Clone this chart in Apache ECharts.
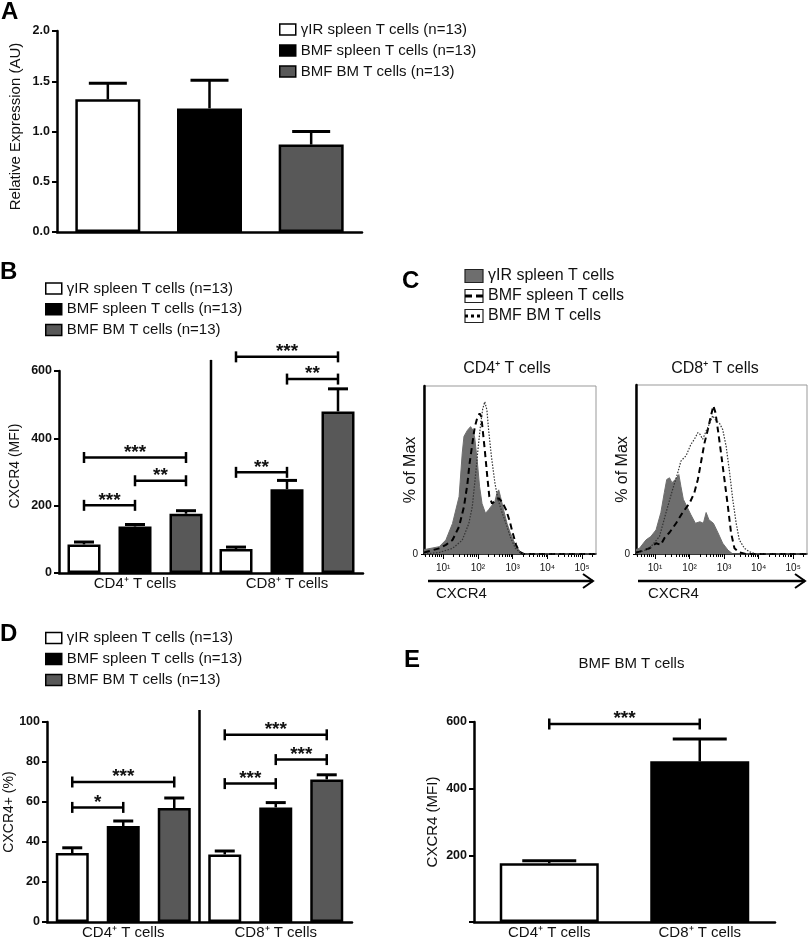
<!DOCTYPE html>
<html>
<head>
<meta charset="utf-8">
<script src="https://cdn.jsdelivr.net/npm/echarts@6/dist/echarts.min.js"></script>
<style>
  html, body { margin: 0; background: #fff; }
  #chart { width: 810px; height: 940px; }
</style>
</head>
<body>
<div id="chart"></div>
<script>
// ---- data ----
const groupNames = ['γIR spleen T cells (n=13)', 'BMF spleen T cells (n=13)', 'BMF BM T cells (n=13)'];
const subsetCats = ['CD4⁺ T cells', 'CD8⁺ T cells'];

// A: relative expression, one bar per group
const aMean = [1.32, 1.23, 0.87];
const aSem = [0.16, 0.28, 0.13];

// B: CXCR4 MFI, rows = group, columns = CD4 / CD8
const bMean = [[85, 71], [138, 249], [176, 480]];
const bSem = [[7, 6], [6, 26], [9, 67]];
// [subset, fromGroup, toGroup, y, stars]
const bSig = [[0, 0, 2, 343, '***'], [0, 1, 2, 274, '**'], [0, 0, 1, 201, '***'],
              [1, 0, 1, 299, '**'], [1, 1, 2, 576, '**'], [1, 0, 2, 642, '***']];

// D: % CXCR4+
const dMean = [[34.5, 33.8], [48, 57.3], [57, 71.3]];
const dSem = [[2.6, 1.7], [2.5, 2.4], [5, 2.3]];
const dSig = [[0, 0, 2, 70, '***'], [0, 0, 1, 57.3, '*'],
              [1, 0, 1, 69.2, '***'], [1, 1, 2, 81.2, '***'], [1, 0, 2, 93.6, '***']];

// E: BMF BM T cells, CD4 vs CD8
const eMean = [176, 482];
const eSem = [8, 67];
const eSig = [[0, 1, 594, '***']];

// C: histograms, [log10 CXCR4, % of max]
const histNames = ['γIR spleen T cells', 'BMF spleen T cells', 'BMF BM T cells'];
const cd4Gray = [[0.45, 3], [0.51, 3.1], [0.89, 4.8], [1.08, 9.2], [1.27, 20], [1.46, 37.6], [1.55, 66],
  [1.60, 77], [1.70, 81], [1.79, 83.4], [1.86, 81], [1.91, 76], [1.98, 61.6], [2.05, 44], [2.12, 33],
  [2.22, 26.6], [2.31, 29], [2.41, 32], [2.49, 34.3], [2.55, 40], [2.60, 42], [2.65, 37.6], [2.74, 29],
  [2.84, 20], [2.93, 14], [3.08, 6], [3.22, 1.5], [3.36, 0], [5.4, 0]];
const cd4Dash = [[0.45, 1], [0.89, 3.7], [1.08, 6], [1.27, 9.2], [1.46, 18], [1.60, 31], [1.70, 46],
  [1.76, 59], [1.84, 72], [1.91, 83], [1.98, 89], [2.05, 92], [2.10, 90], [2.14, 81], [2.20, 68],
  [2.27, 51], [2.33, 37.6], [2.41, 33], [2.51, 35], [2.60, 36.5], [2.70, 34], [2.81, 29], [2.91, 22],
  [3.0, 14], [3.10, 6], [3.19, 1.5], [3.31, 0], [5.4, 0]];
const cd4Dot = [[0.45, 0], [0.89, 1], [1.27, 3.7], [1.55, 9], [1.74, 20], [1.84, 31], [1.93, 51],
  [2.01, 70], [2.08, 85], [2.14, 95], [2.20, 99.7], [2.26, 94.3], [2.31, 81], [2.39, 64], [2.49, 46.6],
  [2.58, 35.6], [2.70, 27], [2.81, 20], [2.93, 11.4], [3.08, 3.7], [3.22, 1], [3.36, 0], [5.4, 0]];
const cd8Gray = [[0.45, 3], [0.55, 3.7], [0.74, 9.2], [0.88, 11.4], [1.03, 15.7], [1.17, 27], [1.27, 40],
  [1.34, 48.5], [1.42, 49.6], [1.49, 46.4], [1.59, 48.5], [1.69, 51.7], [1.75, 44], [1.82, 35.6],
  [1.92, 31], [2.04, 25.5], [2.17, 20], [2.30, 21], [2.40, 20], [2.48, 27], [2.56, 22.3], [2.69, 20],
  [2.82, 14], [2.96, 7], [3.11, 2.6], [3.25, 0], [5.4, 0]];
const cd8Dash = [[0.45, 1], [0.55, 1.5], [0.84, 3.7], [1.03, 7], [1.17, 6], [1.27, 10.3], [1.42, 14],
  [1.61, 20], [1.80, 27], [2.00, 33], [2.14, 40], [2.24, 48.5], [2.33, 59.5], [2.43, 72], [2.53, 81],
  [2.62, 90], [2.69, 96.5], [2.75, 92], [2.82, 81], [2.91, 66], [3.01, 48.5], [3.11, 31], [3.20, 14],
  [3.30, 3.7], [3.44, 1], [3.64, 0], [5.4, 0]];
const cd8Dot = [[0.45, 0], [0.55, 1], [0.84, 3.7], [1.13, 11.4], [1.32, 27], [1.51, 42], [1.66, 53],
  [1.75, 60.5], [1.90, 64], [2.04, 71.4], [2.14, 74.7], [2.24, 79], [2.30, 78], [2.38, 74.7], [2.48, 80],
  [2.58, 85], [2.67, 90], [2.77, 86.7], [2.87, 85], [2.96, 81], [3.06, 70], [3.16, 53], [3.25, 35.6],
  [3.35, 20], [3.44, 9.2], [3.59, 3.7], [3.73, 1.5], [3.93, 0], [5.4, 0]];
const decadeTicks = [1, 2, 3, 4, 5];

// ---- styling ----
const FONT = '"Liberation Sans", Arial, Helvetica, sans-serif';
const INK = '#111';
const BAR_FILL = ['#ffffff', '#000000', '#585858'];
const HIST_GRAY = '#6e6e6e';
const PITCH = 51, BW3 = 33, STROKE = 2.5;
const SUP = { 1: '¹', 2: '²', 3: '³', 4: '⁴', 5: '⁵' };

const minorTicks = [];
for (let n = 0; n <= 5; n++) {
  for (let k = 2; k <= 9; k++) {
    const v = n + Math.log10(k);
    if (v > 0.45 && v < 5.4) minorTicks.push(v);
  }
}

const chart = echarts.init(document.getElementById('chart'), null, { renderer: 'canvas' });

function barYAxis(grid, max, interval, name, nameGap, nameSize, lift, fmt) {
  return {
    gridIndex: grid, type: 'value', min: 0, max, interval,
    name, nameLocation: 'middle', nameGap, nameMoveOverlap: false,
    nameTextStyle: { fontSize: nameSize, color: INK, fontFamily: FONT, padding: [0, 0, 0, lift * 2] },
    axisLine: { show: true, lineStyle: { color: '#000', width: 2.5 } },
    axisTick: { show: true, length: 5, lineStyle: { color: '#000', width: 2 } },
    axisLabel: { fontSize: 12.5, fontWeight: 'bold', color: INK, fontFamily: FONT, margin: 7, formatter: fmt },
    splitLine: { show: false }
  };
}

function catAxis(grid, data, showLabel) {
  return {
    gridIndex: grid, type: 'category', data,
    axisLine: { show: true, lineStyle: { color: '#000', width: 2.5 } },
    axisTick: { show: false },
    axisLabel: { show: showLabel, fontSize: 15, color: INK, fontFamily: FONT, margin: 3, interval: 0 },
    splitLine: { show: false }
  };
}

function logAxes(grid) {
  return [{
    gridIndex: grid, type: 'value', min: 0.45, max: 5.4, position: 'bottom',
    axisLine: { show: true, onZero: false, lineStyle: { color: '#000', width: 1.5 } },
    axisTick: { show: true, customValues: decadeTicks, length: 5, lineStyle: { color: '#000', width: 1 } },
    axisLabel: { customValues: decadeTicks, formatter: v => '10' + SUP[v], fontSize: 10, color: INK, fontFamily: FONT, margin: 9 },
    splitLine: { show: false }
  }, {
    gridIndex: grid, type: 'value', min: 0.45, max: 5.4, position: 'bottom',
    axisLine: { show: false },
    axisTick: { show: true, customValues: minorTicks, length: 3, lineStyle: { color: '#000', width: 1 } },
    axisLabel: { show: false },
    splitLine: { show: false }
  }];
}

function histYAxis(grid) {
  return {
    gridIndex: grid, type: 'value', min: 0, max: 110,
    name: '% of Max', nameLocation: 'middle', nameGap: 5, nameMoveOverlap: false,
    nameTextStyle: { fontSize: 16, color: INK, fontFamily: FONT },
    axisLine: { show: true, lineStyle: { color: '#000', width: 2.5 } },
    axisTick: { show: true, customValues: [0], length: 3, lineStyle: { color: '#000', width: 1 } },
    axisLabel: { customValues: [0], fontSize: 10, color: INK, fontFamily: FONT, margin: 6 },
    splitLine: { show: false }
  };
}

function groupedBars(ax, means) {
  return means.map((row, k) => ({
    name: groupNames[k], type: 'bar', xAxisIndex: ax, yAxisIndex: ax, data: row,
    barWidth: BW3, barGap: ((PITCH - BW3) / BW3 * 100) + '%',
    itemStyle: { color: BAR_FILL[k], borderColor: '#000', borderWidth: STROKE }, z: 2
  }));
}

// items: [category, slot offset, mean, sem]
function errorBars(ax, items, pitch, capHalf) {
  return {
    type: 'custom', xAxisIndex: ax, yAxisIndex: ax, data: items, encode: { x: 0, y: 2 }, z: 3, silent: true,
    renderItem(params, api) {
      const base = api.coord([api.value(0), api.value(2)]);
      const top = api.coord([api.value(0), api.value(2) + api.value(3)]);
      const x = base[0] + api.value(1) * pitch;
      return {
        type: 'group', children: [
          { type: 'line', shape: { x1: x, y1: base[1], x2: x, y2: top[1] }, style: { stroke: '#000', lineWidth: 2.5 } },
          { type: 'line', shape: { x1: x - capHalf, y1: top[1], x2: x + capHalf, y2: top[1] }, style: { stroke: '#000', lineWidth: 3 } }
        ]
      };
    }
  };
}

// items: [catFrom, slotFrom, catTo, slotTo, y]
function brackets(ax, items, labels, pitch) {
  return {
    type: 'custom', xAxisIndex: ax, yAxisIndex: ax, data: items, encode: { x: 0, y: 4 }, z: 4, silent: true,
    renderItem(params, api) {
      const a = api.coord([api.value(0), api.value(4)]);
      const b = api.coord([api.value(2), api.value(4)]);
      const x1 = a[0] + api.value(1) * pitch, x2 = b[0] + api.value(3) * pitch, y = a[1];
      const ls = { stroke: '#000', lineWidth: 2.5 };
      return {
        type: 'group', children: [
          { type: 'line', shape: { x1, y1: y, x2, y2: y }, style: ls },
          { type: 'line', shape: { x1, y1: y - 5.5, x2: x1, y2: y + 5.5 }, style: ls },
          { type: 'line', shape: { x1: x2, y1: y - 5.5, x2, y2: y + 5.5 }, style: ls },
          { type: 'text', x: (x1 + x2) / 2, y: y - 5,
            style: { text: labels[params.dataIndex], fill: INK, font: 'bold 19px ' + FONT, align: 'center', verticalAlign: 'middle' } }
        ]
      };
    }
  };
}

function divider(ax, topValue) {
  return {
    type: 'custom', xAxisIndex: ax, yAxisIndex: ax, data: [[0, topValue]], encode: { x: 0, y: 1 }, z: 3, silent: true,
    renderItem(params, api) {
      const p0 = api.coord([0, 0]), p1 = api.coord([1, api.value(1)]);
      const x = (p0[0] + p1[0]) / 2;
      return { type: 'line', shape: { x1: x, y1: p1[1], x2: x, y2: p0[1] }, style: { stroke: '#000', lineWidth: 2.5 } };
    }
  };
}

function histSeries(xIdx, yIdx, gray, dash, dot) {
  return [
    { name: histNames[0], type: 'line', xAxisIndex: xIdx, yAxisIndex: yIdx, data: gray, symbol: 'none',
      lineStyle: { color: HIST_GRAY, width: 1 }, areaStyle: { color: HIST_GRAY, opacity: 1 }, z: 2 },
    { name: histNames[1], type: 'line', xAxisIndex: xIdx, yAxisIndex: yIdx, data: dash, symbol: 'none',
      lineStyle: { color: '#000', width: 2, type: [6, 4] }, z: 3 },
    { name: histNames[2], type: 'line', xAxisIndex: xIdx, yAxisIndex: yIdx, data: dot, symbol: 'none',
      lineStyle: { color: '#333', width: 1.2, type: [1.5, 1.5] }, z: 3 }
  ];
}

function legendAt(left, top, gap) {
  return {
    data: groupNames, orient: 'vertical', left, top, itemWidth: 16, itemHeight: 11, itemGap: gap,
    padding: 0, selectedMode: false, icon: 'rect',
    textStyle: { fontSize: 15, color: INK, fontFamily: FONT },
    itemStyle: { borderWidth: 1.5, borderColor: '#000' }
  };
}

const txt = (x, y, text, size, extra) => ({
  type: 'text', x, y, silent: true,
  style: Object.assign({ text, fill: INK, font: size + 'px ' + FONT, verticalAlign: 'middle' }, extra || {})
});

function histLegend() {
  const out = [];
  const cy = [276, 296, 316];
  cy.forEach((y, i) => {
    out.push({ type: 'rect', shape: { x: 465, y: y - 6.5, width: 18, height: 13 },
      style: { fill: i === 0 ? HIST_GRAY : '#fff', stroke: '#222', lineWidth: 1.2 } });
    if (i > 0) {
      out.push({ type: 'line', shape: { x1: 465, y1: y, x2: 483, y2: y },
        style: { stroke: '#000', lineWidth: 3, lineDash: i === 1 ? [7, 4] : [3, 3] } });
    }
    out.push(txt(488, y, histNames[i], 16));
  });
  return out;
}

function arrow(x1, x2, y) {
  return [
    { type: 'line', shape: { x1, y1: y, x2, y2: y }, style: { stroke: '#000', lineWidth: 2.5 } },
    { type: 'polyline', shape: { points: [[x2 - 10, y - 7], [x2, y], [x2 - 10, y + 7]] }, style: { stroke: '#000', lineWidth: 2, fill: null } }
  ];
}

const option = {
  animation: false,
  backgroundColor: '#fff',
  textStyle: { fontFamily: FONT },
  grid: [
    { left: 57, top: 31, width: 305, height: 201 },
    { left: 59, top: 371, width: 304, height: 202 },
    { left: 47, top: 722, width: 305, height: 202 },
    { left: 474, top: 722, width: 301, height: 201 },
    { left: 424, top: 386, width: 172, height: 168, show: true, borderColor: '#999', borderWidth: 1 },
    { left: 636, top: 385, width: 171, height: 169, show: true, borderColor: '#999', borderWidth: 1 }
  ],
  xAxis: [
    catAxis(0, groupNames, false),
    catAxis(1, subsetCats, true),
    catAxis(2, subsetCats, true),
    catAxis(3, subsetCats, true),
    ...logAxes(4),
    ...logAxes(5)
  ],
  yAxis: [
    barYAxis(0, 2, 0.5, 'Relative Expression (AU)', 34, 15, 5, v => v.toFixed(1)),
    barYAxis(1, 600, 200, 'CXCR4 (MFI)', 37, 14, 6),
    barYAxis(2, 100, 20, 'CXCR4+ (%)', 31, 14, 10),
    barYAxis(3, 600, 200, 'CXCR4 (MFI)', 34, 15, 0, v => (v === 0 ? '' : v)),
    histYAxis(4),
    histYAxis(5)
  ],
  legend: [legendAt(279, 22, 6), legendAt(45, 281, 5.7), legendAt(45, 630.5, 6)],
  series: [
    // A
    ...aMean.map((v, k) => ({
      name: groupNames[k], type: 'bar', xAxisIndex: 0, yAxisIndex: 0,
      data: aMean.map((m, i) => (i === k ? m : null)), barWidth: 65, barGap: '-100%',
      itemStyle: { color: BAR_FILL[k], borderColor: '#000', borderWidth: STROKE }, z: 2
    })),
    errorBars(0, aMean.map((m, i) => [i, 0, m, aSem[i]]), 0, 19),
    // B
    ...groupedBars(1, bMean),
    errorBars(1, bMean.flatMap((row, k) => row.map((m, c) => [c, k - 1, m, bSem[k][c]])), PITCH, 10),
    brackets(1, bSig.map(s => [s[0], s[1] - 1, s[0], s[2] - 1, s[3]]), bSig.map(s => s[4]), PITCH),
    divider(1, 633),
    // D
    ...groupedBars(2, dMean),
    errorBars(2, dMean.flatMap((row, k) => row.map((m, c) => [c, k - 1, m, dSem[k][c]])), PITCH, 10),
    brackets(2, dSig.map(s => [s[0], s[1] - 1, s[0], s[2] - 1, s[3]]), dSig.map(s => s[4]), PITCH),
    divider(2, 106),
    // E
    { name: 'BMF BM T cells', type: 'bar', xAxisIndex: 3, yAxisIndex: 3, barWidth: 99,
      data: eMean.map((v, i) => ({ value: v, itemStyle: { color: BAR_FILL[i] } })),
      itemStyle: { borderColor: '#000', borderWidth: STROKE }, z: 2 },
    errorBars(3, eMean.map((m, i) => [i, 0, m, eSem[i]]), 0, 27),
    brackets(3, eSig.map(s => [s[0], 0, s[1], 0, s[2]]), eSig.map(s => s[3]), 0),
    // C
    ...histSeries(4, 4, cd4Gray, cd4Dash, cd4Dot),
    ...histSeries(6, 5, cd8Gray, cd8Dash, cd8Dot)
  ],
  graphic: [
    txt(1, 12, 'A', 24, { font: 'bold 24px ' + FONT, fill: '#000' }),
    txt(0, 272, 'B', 24, { font: 'bold 24px ' + FONT, fill: '#000' }),
    txt(402, 281, 'C', 24, { font: 'bold 24px ' + FONT, fill: '#000' }),
    txt(0, 634, 'D', 24, { font: 'bold 24px ' + FONT, fill: '#000' }),
    txt(404, 660, 'E', 24, { font: 'bold 24px ' + FONT, fill: '#000' }),
    ...histLegend(),
    txt(507, 369, 'CD4⁺ T cells', 16, { align: 'center' }),
    txt(715, 369, 'CD8⁺ T cells', 16, { align: 'center' }),
    ...arrow(428, 593, 581),
    ...arrow(638, 805, 581),
    txt(436, 594, 'CXCR4', 15),
    txt(648, 594, 'CXCR4', 15),
    txt(631.5, 664, 'BMF BM T cells', 15, { align: 'center' })
  ]
};

chart.setOption(option);
</script>
</body>
</html>
